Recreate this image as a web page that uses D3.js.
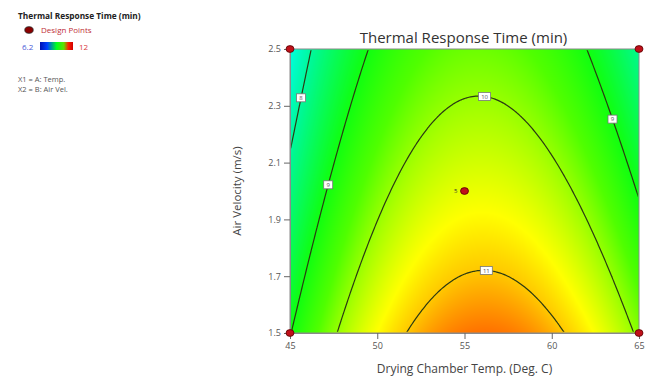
<!DOCTYPE html>
<html><head><meta charset="utf-8">
<script src="https://cdn.jsdelivr.net/npm/d3@7"></script>
<style>
html,body{margin:0;padding:0;background:#fff;}
svg{display:block;font-family:"Open Sans","Noto Sans",sans-serif;}
</style></head>
<body>
<svg id="chart" width="649" height="377"></svg>
<script>
// ---- data ----
const tempDomain = [45, 65];
const velDomain = [1.5, 2.5];
const tempTicks = [45, 50, 55, 60, 65];
const velTicks = [1.5, 1.7, 1.9, 2.1, 2.3, 2.5];
// coded quadratic model: y = b0 + bA*A + bB*B + bAB*A*B + bAA*A^2 + bBB*B^2
const coefNames = ["Intercept", "A", "B", "AB", "A^2", "B^2"];
const coefValues = [10.507, 0.377, -0.812, -0.087, -1.934, 0.051];
const contourLevels = [8, 9, 10, 11];
const labelLevels = [8, 9, 10, 9, 11];
const labelTemps = [45.57, 47.18, 56.23, 63.57, 56.29];
const labelVels = [2.327, 2.025, 2.349, 2.254, 1.722];
const designTemps = [45, 45, 65, 65, 55];
const designVels = [1.5, 2.5, 1.5, 2.5, 2.0];
const designReps = [1, 1, 1, 1, 5];
const legendMin = 6.2, legendMax = 12;
const colorStops = [6.2, 7.3, 8.1, 9.0, 9.6, 10.1, 10.65, 11.0, 11.4, 12];
const colorVals = ["#0000ff", "#00ffff", "#00f890", "#10ff10", "#50ff00", "#a8ff00", "#ffff00", "#ffc800", "#ff7000", "#ff0000"];

// ---- layout ----
const svg = d3.select("#chart");
const X0 = 290, X1 = 639, Y0 = 49, Y1 = 333;
const x = d3.scaleLinear().domain(tempDomain).range([X0, X1]);
const y = d3.scaleLinear().domain(velDomain).range([Y1, Y0]);
const color = d3.scaleLinear().domain(colorStops).range(colorVals).clamp(true);

function model(T, V) {
  const a = (T - 55) / 10, b = (V - 2) / 0.5;
  const c = coefValues;
  return c[0] + c[1]*a + c[2]*b + c[3]*a*b + c[4]*a*a + c[5]*b*b;
}

// fill raster
const W = X1 - X0, H = Y1 - Y0;
const canvas = document.createElement("canvas");
canvas.width = W; canvas.height = H;
const ctx = canvas.getContext("2d");
const img = ctx.createImageData(W, H);
for (let j = 0; j < H; j++) {
  for (let i = 0; i < W; i++) {
    const T = x.invert(X0 + i + 0.5), V = y.invert(Y0 + j + 0.5);
    const c = d3.rgb(color(model(T, V)));
    const k = (j * W + i) * 4;
    img.data[k] = c.r; img.data[k+1] = c.g; img.data[k+2] = c.b; img.data[k+3] = 255;
  }
}
ctx.putImageData(img, 0, 0);
svg.append("image").attr("x", X0).attr("y", Y0).attr("width", W).attr("height", H)
  .attr("preserveAspectRatio", "none").attr("href", canvas.toDataURL());

// contours
const n = 200, m = 160;
const grid = new Array(n * m);
for (let j = 0; j < m; j++) for (let i = 0; i < n; i++) {
  const T = tempDomain[0] + (tempDomain[1] - tempDomain[0]) * (i + 0.5) / n;
  const V = velDomain[1] - (velDomain[1] - velDomain[0]) * (j + 0.5) / m;
  grid[j * n + i] = model(T, V);
}
const contours = d3.contours().size([n, m]).thresholds(contourLevels)(grid);
const gx = d3.scaleLinear().domain([0, n]).range([X0, X1]);
const gy = d3.scaleLinear().domain([0, m]).range([Y0, Y1]);
const proj = d3.geoTransform({ point: function(px, py) { this.stream.point(gx(px), gy(py)); } });
const path = d3.geoPath(proj);

svg.append("clipPath").attr("id", "clipIn").append("rect")
  .attr("x", X0 + 1.2).attr("y", Y0 + 1.2).attr("width", W - 2.4).attr("height", H - 2.4);
svg.append("g").attr("clip-path", "url(#clipIn)")
  .selectAll("path").data(contours).join("path")
  .attr("d", path).attr("fill", "none").attr("stroke", "#2b3a12").attr("stroke-width", 1.2);

// contour labels
const ringPts = {};
contours.forEach(c => {
  const pts = [];
  c.coordinates.forEach(poly => poly.forEach(ring => ring.forEach(p => {
    const px = gx(p[0]), py = gy(p[1]);
    if (px > X0 + 2 && px < X1 - 2 && py > Y0 + 2 && py < Y1 - 2) pts.push([px, py]);
  })));
  ringPts[c.value] = pts;
});
labelLevels.forEach((lv, k) => {
  const ax = x(labelTemps[k]), ay = y(labelVels[k]);
  let best = [ax, ay], bd = Infinity;
  (ringPts[lv] || []).forEach(p => {
    const d = (p[0]-ax)**2 + (p[1]-ay)**2;
    if (d < bd) { bd = d; best = p; }
  });
  const txt = String(lv);
  const bw = txt.length > 1 ? 12 : 9, bh = 8;
  const g = svg.append("g").attr("transform", `translate(${best[0]},${best[1]})`);
  g.append("rect").attr("x", -bw/2).attr("y", -bh/2).attr("width", bw).attr("height", bh)
    .attr("fill", "#fff").attr("stroke", "#777").attr("stroke-width", 0.8);
  g.append("text").attr("text-anchor", "middle").attr("dy", "0.35em")
    .attr("font-size", 6).attr("fill", "#555").text(txt);
});

// frame
svg.append("rect").attr("x", X0).attr("y", Y0).attr("width", W).attr("height", H)
  .attr("fill", "none").attr("stroke", "#8a8a8a").attr("stroke-width", 1);

// axes
const xAxis = svg.append("g").attr("transform", `translate(0,${Y1})`)
  .call(d3.axisBottom(x).tickValues(tempTicks).tickSize(6).tickPadding(4).tickFormat(d3.format("d")));
const yAxis = svg.append("g").attr("transform", `translate(${X0},0)`)
  .call(d3.axisLeft(y).tickValues(velTicks).tickSize(6).tickPadding(3).tickFormat(d3.format(".1f")));
[xAxis, yAxis].forEach(a => {
  a.select(".domain").attr("stroke", "#8a8a8a");
  a.selectAll(".tick line").attr("stroke", "#666");
  a.selectAll(".tick text").attr("fill", "#555").attr("font-size", 9)
    .attr("font-family", "'Open Sans','Noto Sans',sans-serif");
});

// design points
designTemps.forEach((T, k) => {
  svg.append("ellipse").attr("cx", x(T)).attr("cy", y(designVels[k]))
    .attr("rx", 4).attr("ry", 3.4).attr("fill", "#c0101a").attr("stroke", "#5a0000").attr("stroke-width", 0.8);
  if (designReps[k] > 1) {
    svg.append("text").attr("x", x(T) - 7).attr("y", y(designVels[k])).attr("dy", "0.35em")
      .attr("text-anchor", "end").attr("font-size", 6).attr("fill", "#333").text(designReps[k]);
  }
});

// titles
svg.append("text").attr("x", (X0 + X1) / 2 - 1).attr("y", 43).attr("text-anchor", "middle")
  .attr("font-size", 15).attr("fill", "#333").text("Thermal Response Time (min)");
svg.append("text").attr("x", (X0 + X1) / 2).attr("y", 373).attr("text-anchor", "middle")
  .attr("font-size", 12).attr("fill", "#444").text("Drying Chamber Temp. (Deg. C)");
svg.append("text").attr("transform", `translate(241,${(Y0 + Y1) / 2}) rotate(-90)`)
  .attr("text-anchor", "middle").attr("font-size", 11.5).attr("fill", "#444").text("Air Velocity (m/s)");

// legend
const leg = svg.append("g");
leg.append("text").attr("x", 18).attr("y", 19).attr("font-size", 8.3).attr("font-weight", "bold")
  .attr("fill", "#222").text("Thermal Response Time (min)");
leg.append("ellipse").attr("cx", 29).attr("cy", 30).attr("rx", 4.2).attr("ry", 3.3)
  .attr("fill", "#8b0000").attr("stroke", "#222").attr("stroke-width", 0.8);
leg.append("text").attr("x", 41).attr("y", 33).attr("font-size", 8).attr("fill", "#c0303a").text("Design Points");
const grad = svg.append("defs").append("linearGradient").attr("id", "lg");
[[0, "#0010b0"], [0.22, "#0040ff"], [0.5, "#00ff20"], [0.72, "#60e000"], [0.86, "#ff2000"], [1, "#d00000"]]
  .forEach(s => grad.append("stop").attr("offset", s[0]).attr("stop-color", s[1]));
leg.append("rect").attr("x", 40).attr("y", 42).attr("width", 33).attr("height", 8).attr("fill", "url(#lg)");
leg.append("text").attr("x", 22).attr("y", 49.5).attr("font-size", 8).attr("fill", "#4a5ad8").text(legendMin);
leg.append("text").attr("x", 79).attr("y", 49.5).attr("font-size", 8).attr("fill", "#d83a3a").text(legendMax);
leg.append("text").attr("x", 18).attr("y", 82).attr("font-size", 7.5).attr("fill", "#555").text("X1 = A: Temp.");
leg.append("text").attr("x", 18).attr("y", 92).attr("font-size", 7.5).attr("fill", "#555").text("X2 = B: Air Vel.");
</script>
</body></html>
